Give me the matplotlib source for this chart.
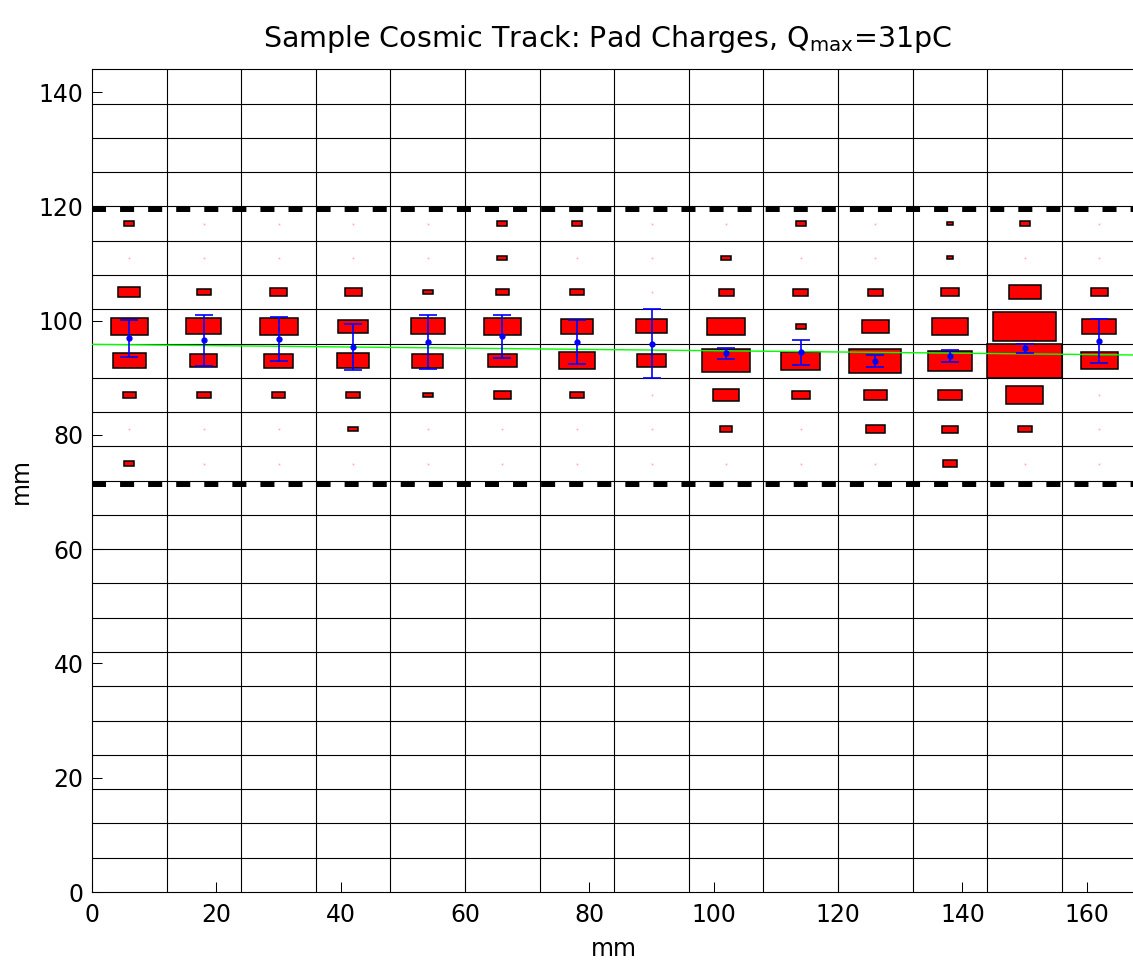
import matplotlib
matplotlib.use("Agg")
import matplotlib.pyplot as plt
from matplotlib.patches import Rectangle

plt.rcParams["font.family"] = ["DejaVu Sans"]
plt.rcParams["mathtext.fontset"] = "dejavusans"

# Pad geometry (mm)
pad_w = 12.0
pad_h = 6.0
q_max = 31.0  # pC

# Pad centres of the read-out window
pad_x = [6, 18, 30, 42, 54, 66, 78, 90, 102, 114, 126, 138, 150, 162]
pad_y = [75, 81, 87, 93, 99, 105, 111, 117]

# Charge per pad in pC, one row per pad_y, one entry per pad_x
pad_charge = [
    [4.2, 0, 0, 0, 0, 0, 0, 0, 0, 0, 0, 5.6, 0, 0],                              # y=75
    [0, 0, 0, 4.0, 0, 0, 0, 0, 5.1, 0, 7.6, 6.4, 5.9, 0],                        # y=81
    [5.6, 5.6, 5.6, 5.6, 4.3, 7.1, 5.9, 0, 10.9, 7.4, 9.3, 9.6, 15.5, 0],        # y=87
    [13.6, 11.2, 12.4, 13.6, 12.7, 12.1, 15.2, 12.1, 20.2, 16.1, 21.7, 18.0, 31.0, 15.5],  # y=93
    [15.2, 14.6, 15.8, 12.4, 14.3, 15.5, 13.3, 12.7, 15.7, 4.2, 11.2, 14.9, 26.2, 14.0],   # y=99
    [9.0, 5.6, 6.8, 7.1, 4.3, 5.6, 5.9, 0, 6.2, 6.4, 6.2, 7.4, 13.3, 7.1],       # y=105
    [0, 0, 0, 0, 0, 4.2, 0, 0, 4.2, 0, 0, 2.9, 0, 0],                            # y=111
    [4.2, 0, 0, 0, 0, 4.2, 4.3, 0, 0, 4.2, 0, 2.9, 4.2, 0],                      # y=117
]

# Charge-weighted row position and its spread for each pad column
centroid_y = [96.9, 96.55, 96.8, 95.4, 96.26, 97.3, 96.26, 96.0,
              94.3, 94.45, 92.9, 93.8, 95.15, 96.5]
centroid_err = [3.3, 4.4, 3.8, 4.05, 4.7, 3.75, 3.9, 6.05,
                1.0, 2.2, 1.03, 1.1, 0.83, 3.85]

# Straight-line track fit (end points)
track_x = [0, 168]
track_y = [95.85, 93.99]

# Edges of the active row band
band_edges = [71.5, 119.5]

fig = plt.figure(figsize=(11.33, 9.61), dpi=100)
ax = fig.add_axes([0.0812, 0.0718, 0.9219, 0.8561])
ax.set_xlim(0, 168)
ax.set_ylim(0, 144)

# pad outlines
for gx in range(12, 168, 12):
    ax.axvline(gx, color="black", lw=0.8, zorder=1)
for gy in range(6, 144, 6):
    ax.axhline(gy, color="black", lw=0.8, zorder=1)

for yb in band_edges:
    ax.plot([0, 168], [yb, yb], color="black", lw=4.3,
            dashes=(2.35, 2.35), solid_capstyle="butt", zorder=2)

# charge boxes, side length proportional to charge
empty_x, empty_y = [], []
for j, y in enumerate(pad_y):
    for i, x in enumerate(pad_x):
        q = pad_charge[j][i]
        if q <= 0:
            empty_x.append(x)
            empty_y.append(y)
            continue
        f = q / q_max
        ax.add_patch(Rectangle((x - pad_w * f / 2, y - pad_h * f / 2),
                               pad_w * f, pad_h * f, facecolor="red",
                               edgecolor="black", lw=1.1, zorder=3))
ax.plot(empty_x, empty_y, "s", ms=1.2, mew=0, color="#ffa8a8", zorder=3)

ax.plot(track_x, track_y, color="#00ff00", lw=1.0, zorder=4)

ax.errorbar(pad_x, centroid_y, yerr=centroid_err, fmt="o", ms=3.5,
            color="blue", ecolor="blue", elinewidth=1.2, capsize=6.8,
            capthick=1.2, zorder=5)

ax.set_xticks(range(0, 161, 20))
ax.set_yticks(range(0, 141, 20))
ax.tick_params(direction="in", length=7.2, width=0.75, labelsize=17,
               top=False, right=False)
ax.tick_params(axis="x", pad=8)
ax.tick_params(axis="y", pad=6)
for s in ax.spines.values():
    s.set_linewidth(0.8)

ax.set_xlabel("mm", fontsize=17, labelpad=7)
ax.set_ylabel("mm", fontsize=17, labelpad=4)

fig.text(0.536, 0.951, r"Sample Cosmic Track: Pad Charges, Q$_{\mathregular{max}}$=31pC",
         ha="center", va="baseline", fontsize=20.5)

fig.savefig("out.png", dpi=100)
